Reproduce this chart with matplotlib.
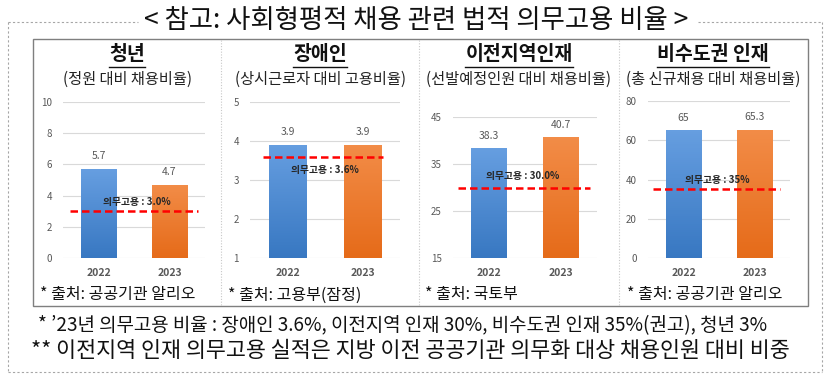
import numpy as np
import matplotlib
matplotlib.use("Agg")
import matplotlib.pyplot as plt
from matplotlib.patches import Rectangle
from matplotlib.lines import Line2D

plt.rcParams["font.family"] = ["Noto Sans CJK KR", "DejaVu Sans"]

years = ["2022", "2023"]
headers = ["청년", "장애인", "이전지역인재", "비수도권 인재"]
subtitles = ["(정원 대비 채용비율)", "(상시근로자 대비 고용비율)",
             "(선발예정인원 대비 채용비율)", "(총 신규채용 대비 채용비율)"]
values = [[5.7, 4.7], [3.9, 3.9], [38.3, 40.7], [65, 65.3]]
value_labels = [["5.7", "4.7"], ["3.9", "3.9"], ["38.3", "40.7"], ["65", "65.3"]]
quota = [3.0, 3.6, 30.0, 35.0]
quota_labels = ["의무고용 : 3.0%", "의무고용 : 3.6%", "의무고용 : 30.0%", "의무고용 : 35%"]
yticks = [[0, 2, 4, 6, 8, 10], [1, 2, 3, 4, 5], [15, 25, 35, 45], [0, 20, 40, 60, 80]]
sources = ["* 출처: 공공기관 알리오", "* 출처: 고용부(잠정)", "* 출처: 국토부", "* 출처: 공공기관 알리오"]
title = "< 참고: 사회형평적 채용 관련 법적 의무고용 비율 >"
notes = ["* \u201923년 의무고용 비율 : 장애인 3.6%, 이전지역 인재 30%, 비수도권 인재 35%(권고), 청년 3%",
         "** 이전지역 인재 의무고용 실적은 지방 이전 공공기관 의무화 대상 채용인원 대비 비중"]

W, H = 830, 385
fig = plt.figure(figsize=(W / 100, H / 100), dpi=100)
renderer = fig.canvas.get_renderer()


def fx(px):
    return px / W


def fy(py):
    return 1 - py / H


def fit_text(x, y, s, width_px, size, **kw):
    t = fig.text(fx(x), fy(y), s, fontsize=size, **kw)
    w = t.get_window_extent(renderer).width
    t.set_fontsize(size * width_px / w)
    return t


# outer dashed frame
grey = "#a6a6a6"
dash = (0, (2, 2))
fig.add_artist(Line2D([fx(8), fx(8)], [fy(22), fy(372)], color=grey, lw=0.8, ls=dash))
fig.add_artist(Line2D([fx(822), fx(822)], [fy(22), fy(372)], color=grey, lw=0.8, ls=dash))
fig.add_artist(Line2D([fx(8), fx(822)], [fy(372), fy(372)], color=grey, lw=0.8, ls=dash))
fig.add_artist(Line2D([fx(8), fx(138)], [fy(22), fy(22)], color=grey, lw=0.8, ls=dash))
fig.add_artist(Line2D([fx(698), fx(822)], [fy(22), fy(22)], color=grey, lw=0.8, ls=dash))

fit_text(416, 21, title, 545, 14, ha="center", va="center", color="#111111")

# inner table
fig.add_artist(Rectangle((fx(33), fy(306)), fx(808) - fx(33), fy(39) - fy(306),
                         fill=False, edgecolor="#7f7f7f", lw=1.0))
for xd in [221, 419, 619]:
    fig.add_artist(Line2D([fx(xd), fx(xd)], [fy(40), fy(305)], color="#c8c8c8",
                          lw=0.8, ls=(0, (1, 1.5))))

col_centers = [127, 320, 519, 713]
src_x = [40, 228, 425, 627]
# plot area in pixels: (left, right, top, bottom)
areas = [(63, 205, 102, 258), (250, 400, 102, 258), (453, 597, 117, 258), (648, 790, 101, 258)]
line_span = [(-0.4, 1.4), (-0.33, 1.27), (-0.43, 1.4), (-0.43, 1.36)]
label_pos = [(0.54, 3.6), (0.5, 3.25), (0.47, 32.4), (0.47, 40)]

blue_top, blue_bot = np.array([0.40, 0.62, 0.88]), np.array([0.22, 0.47, 0.76])
orng_top, orng_bot = np.array([0.95, 0.55, 0.28]), np.array([0.90, 0.42, 0.10])

for i in range(4):
    cx = col_centers[i]
    ht = fig.text(fx(cx), fy(55), headers[i], fontsize=14, fontweight="bold",
                  ha="center", va="center", color="#111111")
    bb = ht.get_window_extent(renderer)
    fig.add_artist(Line2D([bb.x0 / W, bb.x1 / W], [fy(67), fy(67)], color="#111111", lw=1.0))
    fig.text(fx(cx), fy(79), subtitles[i], fontsize=11, ha="center", va="center", color="#222222")

    l, r, t, b = areas[i]
    ax = fig.add_axes([fx(l), fy(b), fx(r) - fx(l), fy(t) - fy(b)])
    ax.set_xlim(-0.5, 1.5)
    ax.set_ylim(yticks[i][0], yticks[i][-1])
    ax.set_yticks(yticks[i])
    ax.yaxis.grid(True, color="#d9d9d9", lw=0.8)
    ax.set_axisbelow(True)
    for s in ax.spines.values():
        s.set_visible(False)
    ax.tick_params(length=0, labelsize=7, colors="#595959", pad=8)
    ax.set_xticks([0, 1])
    ax.set_xticklabels(years, fontsize=7.5, color="#595959", fontweight="bold")
    ax.tick_params(axis="x", pad=7)

    base = yticks[i][0]
    bars = ax.bar([0, 1], [v - base for v in values[i]], bottom=base, width=0.5,
                  color="none", edgecolor="none")
    for j, bar in enumerate(bars):
        top_c, bot_c = (blue_top, blue_bot) if j == 0 else (orng_top, orng_bot)
        grad = np.linspace(0, 1, 64)[:, None, None]
        img = top_c * (1 - grad) + bot_c * grad
        im = ax.imshow(img, extent=[bar.get_x(), bar.get_x() + bar.get_width(),
                                    base, values[i][j]],
                       aspect="auto", origin="upper", zorder=2)
        im.set_clip_path(bar)
        span = yticks[i][-1] - yticks[i][0]
        ax.text(j, values[i][j] + span * 0.05, value_labels[i][j], ha="center",
                va="bottom", fontsize=7.5, color="#595959")

    ax.plot(line_span[i], [quota[i], quota[i]], color="#ff0000", lw=1.8,
            ls=(0, (3, 1.6)), zorder=4)
    ax.text(label_pos[i][0], label_pos[i][1], quota_labels[i], ha="center", va="center",
            fontsize=7, fontweight="bold", color="#262626", zorder=5)

    fig.text(fx(src_x[i]), fy(295), sources[i], fontsize=11.5, ha="left", va="center",
             color="#111111")

fit_text(38, 326, notes[0], 732, 12, ha="left", va="center", color="#111111")
fit_text(31, 351, notes[1], 760, 13, ha="left", va="center", color="#111111")

fig.savefig("out.png", dpi=100)
